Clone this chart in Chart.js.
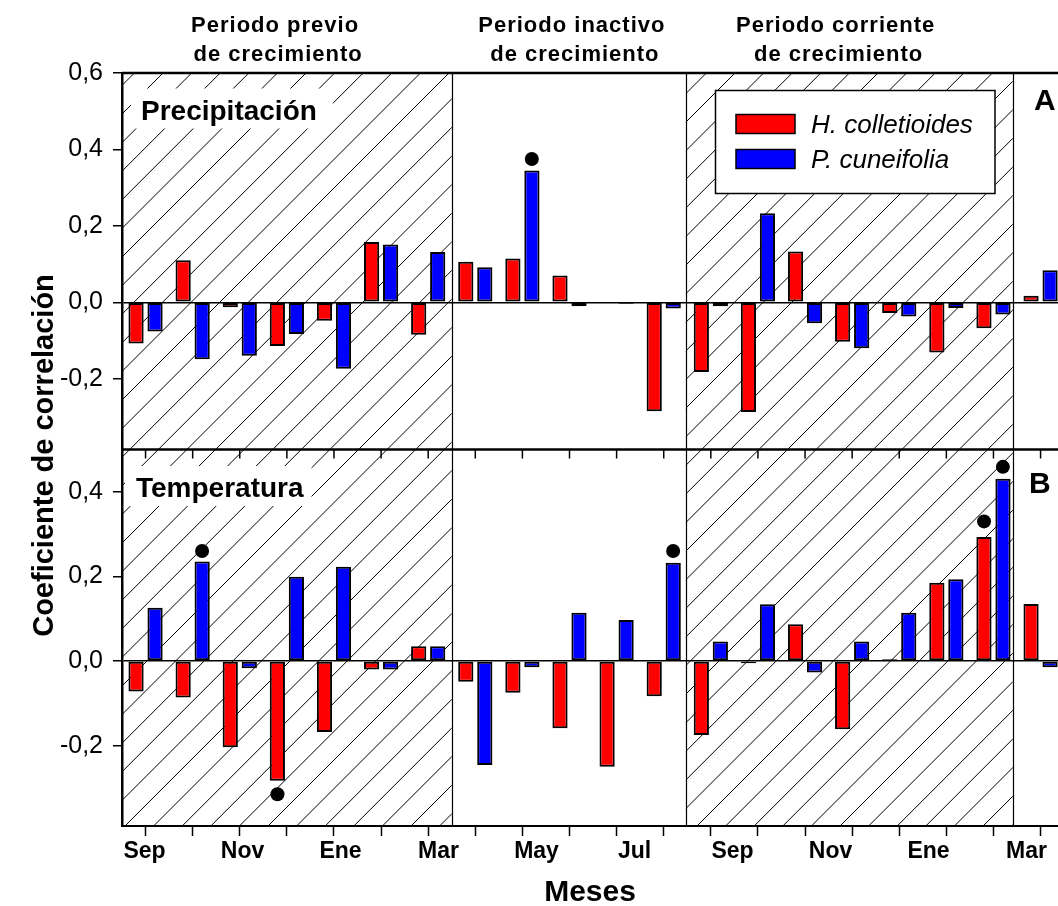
<!DOCTYPE html>
<html lang="es">
<head>
<meta charset="utf-8">
<title>Coeficiente de correlación</title>
<script src="https://cdn.jsdelivr.net/npm/chart.js@4.4.1/dist/chart.umd.min.js"></script>
<style>
  html, body { margin: 0; padding: 0; background: #fff; overflow: hidden; }
</style>
</head>
<body>
<canvas id="corrChart" width="1058" height="906"></canvas>
<script>
// Sep del año previo a Abr del año corriente
const months = ['Sep', 'Oct', 'Nov', 'Dic', 'Ene', 'Feb', 'Mar', 'Abr', 'May', 'Jun', 'Jul', 'Ago',
                'Sep', 'Oct', 'Nov', 'Dic', 'Ene', 'Feb', 'Mar', 'Abr'];
const monthTicks = ['Sep', 'Nov', 'Ene', 'Mar', 'May', 'Jul', 'Sep', 'Nov', 'Ene', 'Mar'];
const yTicksPrecip = [-0.2, 0, 0.2, 0.4, 0.6];
const yTicksTemp = [-0.2, 0, 0.2, 0.4];

const precipHc = [-0.108, 0.110, -0.013, -0.114, -0.048, 0.158, -0.085, 0.106, 0.115, 0.070, 0.002, -0.285,
                  -0.182, -0.287, 0.133, -0.103, -0.028, -0.131, -0.068, 0.017];
const precipPc = [-0.076, -0.149, -0.140, -0.083, -0.174, 0.151, 0.132, 0.092, 0.345, -0.010, -0.004, -0.016,
                  -0.010, 0.233, -0.055, -0.120, -0.037, -0.015, -0.032, 0.084];
const tempHc = [-0.072, -0.086, -0.204, -0.283, -0.168, -0.020, 0.035, -0.049, -0.075, -0.159, -0.250, -0.083,
                -0.175, -0.005, 0.087, -0.161, 0.004, 0.185, 0.293, 0.135];
const tempPc = [0.126, 0.235, -0.017, 0.199, 0.223, -0.020, 0.035, -0.246, -0.015, 0.114, 0.097, 0.232,
                0.046, 0.134, -0.027, 0.046, 0.114, 0.193, 0.431, -0.015];

// correlaciones significativas (punto negro)
const sigPrecipPc = [null, null, null, null, null, null, null, null, 0.375, null, null, null,
                     null, null, null, null, null, null, null, null];
const sigTempHc = [null, null, null, -0.315, null, null, null, null, null, null, null, null,
                   null, null, null, null, null, null, 0.33, null];
const sigTempPc = [null, 0.26, null, null, null, null, null, null, null, null, null, 0.26,
                   null, null, null, null, null, null, 0.459, null];

// periodos de crecimiento (rayados), en posición de mes
const growthPeriods = [[0.5, 7.5], [12.47, 19.41]];
const periodTitles = [['Periodo previo', 'de crecimiento'], ['Periodo inactivo', 'de crecimiento'],
                      ['Periodo corriente', 'de crecimiento']];

const FONT = "'Liberation Sans', Arial, sans-serif";
const RED = '#FF0000', BLUE = '#0000FF';

const toPoints = (values, shift = 0) =>
    values.map((v, i) => ({ x: i + 1 + shift, y: v })).filter(p => p.y !== null);
const fmt = v => v.toFixed(1).replace('.', ',');
const noSidePadding = s => { s.paddingLeft = 0; s.paddingRight = 0; };

const bars = (label, values, color, yAxisID, stack) => ({
    type: 'bar', label, data: toPoints(values), backgroundColor: color,
    borderColor: '#000', borderWidth: 2, borderSkipped: false,
    xAxisID: 'x', yAxisID, stack, categoryPercentage: 0.807, barPercentage: 0.8
});
const dots = (values, shift, yAxisID) => ({
    type: 'scatter', data: toPoints(values, shift), xAxisID: 'x', yAxisID,
    pointRadius: 7, pointBackgroundColor: '#000', pointBorderWidth: 0
});

const yAxis = (min, max, ticks) => ({
    type: 'linear', position: 'left', stack: 'panels', stackWeight: 1, stacked: false, min, max,
    afterBuildTicks: s => { s.ticks = ticks.map(v => ({ value: v })); },
    afterFit: s => { s.width = 122; },
    ticks: { callback: fmt, color: '#000', padding: 10, font: { family: FONT, size: 25 } },
    grid: {
        color: c => (c.tick && c.tick.value === 0 ? '#000' : 'rgba(0,0,0,0)'),
        lineWidth: 1.5, tickLength: 9, tickWidth: 1.5, tickColor: '#000'
    },
    border: { display: true, color: '#000', width: 2.5 }
});

const frame = {
    id: 'frame',
    beforeDraw(chart) {
        const { ctx, chartArea: a, scales: { x } } = chart;
        ctx.save();
        ctx.fillStyle = '#fff';
        ctx.fillRect(0, 0, chart.width, chart.height);
        ctx.strokeStyle = '#000';
        ctx.lineWidth = 1;
        const h = a.bottom - a.top, step = 28.6;
        growthPeriods.forEach(([from, to]) => {
            const x0 = x.getPixelForValue(from), x1 = x.getPixelForValue(to);
            ctx.save();
            ctx.beginPath();
            ctx.rect(x0, a.top, x1 - x0, h);
            ctx.clip();
            ctx.beginPath();
            for (let s = a.left + 3 - step * Math.ceil(h / step); s < x1 + step; s += step) {
                ctx.moveTo(s, a.bottom);
                ctx.lineTo(s + h, a.top);
            }
            ctx.stroke();
            ctx.restore();
        });
        ctx.restore();
    },
    afterDraw(chart) {
        const { ctx, chartArea: a, scales: { x, yA, yB } } = chart;
        ctx.save();
        ctx.strokeStyle = '#000';
        ctx.fillStyle = '#000';

        // divisiones entre periodos
        ctx.lineWidth = 1.2;
        const edges = [growthPeriods[0][1], growthPeriods[1][0], growthPeriods[1][1]];
        edges.forEach(m => {
            const px = Math.round(x.getPixelForValue(m)) + 0.5;
            ctx.beginPath();
            ctx.moveTo(px, a.top);
            ctx.lineTo(px, a.bottom);
            ctx.stroke();
        });

        // marco superior y línea entre paneles
        ctx.lineWidth = 2.5;
        [yA.top, yA.bottom].forEach(py => {
            ctx.beginPath();
            ctx.moveTo(a.left, py);
            ctx.lineTo(a.right, py);
            ctx.stroke();
        });
        // marcas superiores del panel B
        ctx.lineWidth = 1.5;
        x.ticks.forEach(t => {
            const px = x.getPixelForValue(t.value);
            ctx.beginPath();
            ctx.moveTo(px, yB.top);
            ctx.lineTo(px, yB.top + 9);
            ctx.stroke();
        });

        // etiquetas de panel con fondo blanco
        const panelLabel = (text, lx, by, pad) => {
            ctx.font = `bold 28px ${FONT}`;
            const w = ctx.measureText(text).width;
            ctx.fillStyle = '#fff';
            ctx.fillRect(lx - pad[0], by - 31, w + pad[0] + pad[1], 40);
            ctx.fillStyle = '#000';
            ctx.textAlign = 'left';
            ctx.textBaseline = 'alphabetic';
            ctx.fillText(text, lx, by);
        };
        panelLabel('Precipitación', a.left + 19, yA.top + 46.5, [10, 16]);
        panelLabel('Temperatura', a.left + 14, yB.top + 47.5, [11, 8]);

        ctx.font = `bold 30px ${FONT}`;
        ctx.fillText('A', 1034, yA.top + 37);
        ctx.fillText('B', 1029, yB.top + 43.5);

        // leyenda
        ctx.fillStyle = '#fff';
        ctx.fillRect(715.5, 90.5, 279.5, 103);
        ctx.lineWidth = 1.5;
        ctx.strokeRect(715.5, 90.5, 279.5, 103);
        [['H. colletioides', RED, 114.5, 133], ['P. cuneifolia', BLUE, 149.5, 167.5]].forEach(([label, color, sy, by]) => {
            ctx.fillStyle = color;
            ctx.fillRect(736, sy, 59, 19);
            ctx.strokeRect(736, sy, 59, 19);
            ctx.fillStyle = '#000';
            ctx.font = `italic 26px ${FONT}`;
            ctx.fillText(label, 811, by);
        });

        // títulos de periodo
        ctx.font = `bold 22px ${FONT}`;
        ctx.letterSpacing = '1px';
        ctx.textAlign = 'center';
        const centers = [3.75, 10.05, 15.65];
        periodTitles.forEach((lines, i) => {
            const cx = x.getPixelForValue(centers[i]);
            ctx.fillText(lines[0], cx, 32);
            ctx.fillText(lines[1], cx + 3, 61);
        });
        ctx.letterSpacing = '0px';

        // título del eje y, centrado entre ambos paneles
        ctx.save();
        ctx.translate(53, (yA.top + yB.bottom) / 2 + 6);
        ctx.rotate(-Math.PI / 2);
        ctx.font = `bold 29px ${FONT}`;
        ctx.textAlign = 'center';
        ctx.fillText('Coeficiente de correlación', 0, 0);
        ctx.restore();

        ctx.restore();
    }
};

new Chart(document.getElementById('corrChart'), {
    type: 'bar',
    data: {
        datasets: [
            bars('H. colletioides', precipHc, RED, 'yA', 'hc'),
            bars('P. cuneifolia', precipPc, BLUE, 'yA', 'pc'),
            bars('H. colletioides', tempHc, RED, 'yB', 'hc'),
            bars('P. cuneifolia', tempPc, BLUE, 'yB', 'pc'),
            dots(sigPrecipPc, 0.2, 'yA'),
            dots(sigTempHc, -0.2, 'yB'),
            dots(sigTempPc, 0.2, 'yB')
        ]
    },
    options: {
        responsive: false,
        animation: false,
        devicePixelRatio: 1,
        layout: { autoPadding: false, padding: { top: 73, right: 0, bottom: 0, left: 0 } },
        plugins: { legend: { display: false }, tooltip: { enabled: false } },
        scales: {
            yB: yAxis(-0.39, 0.5, yTicksTemp),
            yA: yAxis(-0.385, 0.6, yTicksPrecip),
            x: {
                type: 'linear', position: 'bottom', min: 0.5, max: 20.37, offset: false,
                afterBuildTicks: s => { s.ticks = months.map((m, i) => ({ value: i + 1 })); },
                afterFit: s => { s.height = 10; noSidePadding(s); },
                ticks: { display: false },
                grid: { offset: false, drawOnChartArea: false, tickLength: 10, tickWidth: 1.5, tickColor: '#000' },
                border: { display: true, color: '#000', width: 2 }
            },
            xl: {
                type: 'linear', position: 'bottom', min: -0.2296, max: 9.321, offset: false,
                afterBuildTicks: s => { s.ticks = monthTicks.map((m, i) => ({ value: i })); },
                afterFit: s => { s.height = 70; noSidePadding(s); },
                ticks: {
                    callback: v => monthTicks[v], autoSkip: false, maxRotation: 0, padding: 2,
                    color: '#000', font: { family: FONT, size: 23, weight: 'bold' }
                },
                grid: { display: false, offset: false, drawTicks: false },
                border: { display: false },
                title: {
                    display: true, text: 'Meses', color: '#000', padding: 0,
                    font: { family: FONT, size: 30, weight: 'bold', lineHeight: 0.9 }
                }
            }
        }
    },
    plugins: [frame]
});
</script>
</body>
</html>
